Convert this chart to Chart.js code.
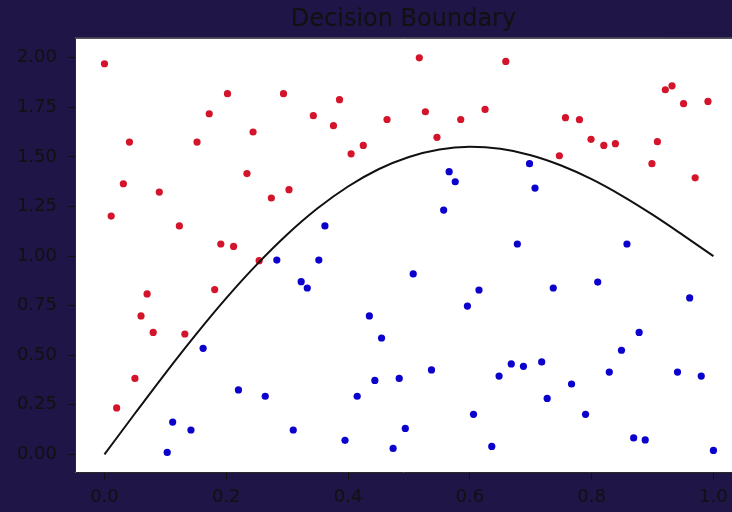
<!DOCTYPE html>
<html>
<head>
<meta charset="utf-8">
<script src="https://cdn.jsdelivr.net/npm/chart.js@4"></script>
<style>
  html, body { margin: 0; padding: 0; background: #1f1547; }
  canvas { display: block; }
</style>
</head>
<body>
<canvas id="chart" width="732" height="512"></canvas>
<script>
// PONTOS VERMELHOS (acima da fronteira)
const redX = [0.00, 0.202, 0.294, 0.172, 0.244, 0.041, 0.152, 0.234, 0.031, 0.090, 0.303, 0.274, 0.011, 0.123, 0.191, 0.212,
              0.254, 0.070, 0.181, 0.060, 0.080, 0.132, 0.050, 0.020,
              0.517, 0.659, 0.386, 0.343, 0.376, 0.464, 0.527, 0.585, 0.625, 0.546, 0.425, 0.405,
              0.757, 0.780, 0.799, 0.820, 0.839, 0.747, 0.921, 0.932, 0.951, 0.991, 0.908, 0.899, 0.970];
const redY = [1.97, 1.819, 1.819, 1.718, 1.626, 1.575, 1.575, 1.416, 1.365, 1.323, 1.335, 1.293, 1.202, 1.152, 1.061, 1.049,
              0.977, 0.809, 0.831, 0.698, 0.615, 0.607, 0.383, 0.234,
              2.000, 1.982, 1.789, 1.708, 1.658, 1.689, 1.728, 1.689, 1.740, 1.599, 1.558, 1.516,
              1.698, 1.688, 1.589, 1.558, 1.567, 1.506, 1.839, 1.859, 1.769, 1.780, 1.577, 1.466, 1.395];

// PONTOS AZUIS (abaixo da fronteira)
const blueX = [0.566, 0.576, 0.557, 0.362, 0.698, 0.707, 0.678, 0.858,
               0.283, 0.162, 0.220, 0.264, 0.112, 0.142, 0.103, 0.310,
               0.352, 0.323, 0.333, 0.507, 0.615, 0.596, 0.435, 0.455, 0.537, 0.484, 0.444, 0.415, 0.668, 0.648,
               0.606, 0.494, 0.395, 0.474, 0.636,
               0.737, 0.810, 0.961, 0.878, 0.849, 0.688, 0.718, 0.829, 0.941, 0.980, 0.767, 0.727, 0.790, 0.869, 0.888, 1.000];
const blueY = [1.426, 1.375, 1.232, 1.152, 1.466, 1.343, 1.061, 1.061,
               0.980, 0.535, 0.325, 0.293, 0.163, 0.123, 0.010, 0.123,
               0.980, 0.871, 0.839, 0.910, 0.829, 0.748, 0.698, 0.587, 0.426, 0.383, 0.373, 0.293, 0.456, 0.395,
               0.202, 0.131, 0.071, 0.030, 0.040,
               0.839, 0.869, 0.789, 0.615, 0.525, 0.444, 0.466, 0.415, 0.415, 0.395, 0.355, 0.282, 0.202, 0.083, 0.073, 0.020];

// CURVA DA FRONTEIRA
const curveX = [0, 0.05, 0.1, 0.15, 0.2, 0.25, 0.3, 0.35, 0.4, 0.45, 0.5, 0.55, 0.6, 0.65, 0.7, 0.75, 0.8, 0.85, 0.9, 0.95, 1.0];
const curveY = [0, 0.206, 0.409, 0.604, 0.788, 0.957, 1.109, 1.241, 1.351, 1.438, 1.5, 1.538, 1.551, 1.541, 1.509, 1.457, 1.388, 1.304, 1.209, 1.106, 1.0];

// EIXOS
const xTicks = [0, 0.2, 0.4, 0.6, 0.8, 1.0];
const yTicks = [0, 0.25, 0.5, 0.75, 1.0, 1.25, 1.5, 1.75, 2.0];

const toPoints = (xs, ys) => xs.map((x, i) => ({x: x, y: ys[i]}));

// fundo branco da área do gráfico + moldura (lado direito cortado na imagem)
const plotFrame = {
    id: "plotFrame",
    beforeDraw(chart) {
        const a = chart.chartArea, ctx = chart.ctx;
        ctx.save();
        ctx.fillStyle = "#ffffff";
        ctx.fillRect(a.left, a.top, a.right - a.left, a.bottom - a.top);
        ctx.restore();
    },
    afterDraw(chart) {
        const a = chart.chartArea, ctx = chart.ctx;
        ctx.save();
        ctx.strokeStyle = "#2a2a2a";
        ctx.lineWidth = 1;
        ctx.beginPath();
        ctx.moveTo(a.right, a.top + 0.5);
        ctx.lineTo(a.left + 0.5, a.top + 0.5);
        ctx.lineTo(a.left + 0.5, a.bottom - 0.5);
        ctx.lineTo(a.right, a.bottom - 0.5);
        ctx.stroke();
        ctx.restore();
    }
};

const tickFont = { family: "DejaVu Sans", size: 18 };

new Chart(document.getElementById("chart").getContext("2d"), {
    type: "scatter",
    data: {
        datasets: [
            { data: toPoints(redX, redY), backgroundColor: "#d3142a", borderWidth: 0, pointRadius: 3.6, order: 2 },
            { data: toPoints(blueX, blueY), backgroundColor: "#0b00cc", borderWidth: 0, pointRadius: 3.6, order: 2 },
            { data: toPoints(curveX, curveY), showLine: true, borderColor: "#111111", borderWidth: 2,
              pointRadius: 0, cubicInterpolationMode: "monotone", order: 1 }
        ]
    },
    options: {
        responsive: false,
        animation: false,
        devicePixelRatio: 1,
        layout: { padding: 0, autoPadding: false },
        plugins: {
            legend: { display: false },
            tooltip: { enabled: false },
            title: {
                display: true,
                text: "Decision Boundary",
                color: "#111111",
                fullSize: false,
                font: { family: "DejaVu Sans", size: 24, weight: "normal" },
                padding: { top: 5, bottom: 4 }
            }
        },
        scales: {
            x: {
                type: "linear",
                min: -0.0484,
                max: 1.0305,
                afterBuildTicks: s => { s.ticks = xTicks.map(v => ({ value: v })); },
                afterFit: s => { s.height = 39; s.paddingLeft = 0; s.paddingRight = 0; },
                ticks: { color: "#111111", font: tickFont, padding: 7, callback: v => Number(v).toFixed(1) },
                grid: { drawOnChartArea: false, drawTicks: true, tickLength: 7, color: "#111111" },
                border: { display: false }
            },
            y: {
                type: "linear",
                min: -0.094,
                max: 2.101,
                afterBuildTicks: s => { s.ticks = yTicks.map(v => ({ value: v })); },
                afterFit: s => { s.width = 75; s.paddingTop = 0; s.paddingBottom = 0; },
                ticks: { color: "#111111", font: tickFont, padding: 11, callback: v => Number(v).toFixed(2) },
                grid: { drawOnChartArea: false, drawTicks: true, tickLength: 7, color: "#111111" },
                border: { display: false }
            }
        }
    },
    plugins: [plotFrame]
});
</script>
</body>
</html>
